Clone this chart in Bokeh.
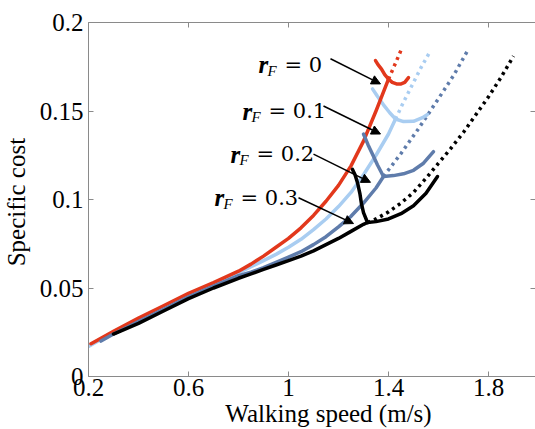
from bokeh.plotting import figure
from bokeh.models import (FixedTicker, LinearAxis, Label, Arrow, NormalHead,
                          ColumnDataSource, CustomJSTickFormatter, Range1d)
from bokeh.embed import file_html
from bokeh.resources import INLINE

# ---------------- data ----------------
x_ticks = [0.2, 0.6, 1.0, 1.4, 1.8]
x_tick_labels = ["0.2", "0.6", "1", "1.4", "1.8"]
y_ticks = [0.0, 0.05, 0.1, 0.15, 0.2]
y_tick_labels = ["0", "0.05", "0.1", "0.15", "0.2"]
x_title = "Walking speed (m/s)"
y_title = "Specific cost"
x_title_pos = 1.16
y_title_pos = 0.0985

# r_F = 0 (red)
r0_speed = [0.21, 0.3, 0.4, 0.5, 0.6, 0.7, 0.8, 0.85, 0.9, 0.95, 1.0, 1.05, 1.1, 1.15, 1.2, 1.25, 1.3, 1.35, 1.40]
r0_cost = [0.0185, 0.0255, 0.033, 0.040, 0.047, 0.053, 0.0595, 0.0635, 0.068, 0.073, 0.078, 0.084, 0.091, 0.099, 0.108, 0.119, 0.133, 0.150, 0.168]
r0_left_speed = [1.40, 1.385, 1.372, 1.358, 1.348]
r0_left_cost = [0.168, 0.1705, 0.1737, 0.1762, 0.1785]
r0_right_speed = [1.40, 1.415, 1.432, 1.448, 1.465, 1.48]
r0_right_cost = [0.168, 0.1662, 0.1653, 0.1652, 0.1662, 0.1688]
r0_dot_speed = [1.40, 1.428, 1.452]
r0_dot_cost = [0.168, 0.177, 0.185]

# r_F = 0.1 (light blue)
r1_speed = [0.2, 0.3, 0.4, 0.5, 0.6, 0.7, 0.8, 0.85, 0.9, 0.95, 1.0, 1.05, 1.1, 1.15, 1.2, 1.25, 1.3, 1.35, 1.4, 1.428]
r1_cost = [0.017, 0.025, 0.0325, 0.0395, 0.046, 0.0525, 0.0585, 0.062, 0.0655, 0.069, 0.073, 0.0775, 0.083, 0.089, 0.096, 0.104, 0.114, 0.125, 0.137, 0.1455]
r1_left_speed = [1.428, 1.405, 1.38, 1.355, 1.336]
r1_left_cost = [0.1455, 0.149, 0.1535, 0.1585, 0.1625]
r1_right_speed = [1.428, 1.46, 1.50, 1.536, 1.556]
r1_right_cost = [0.1455, 0.1440, 0.1442, 0.1462, 0.148]
r1_dot_speed = [1.428, 1.46, 1.496, 1.53, 1.568]
r1_dot_cost = [0.1455, 0.155, 0.165, 0.1745, 0.184]

# r_F = 0.2 (slate blue)
r2_speed = [0.25, 0.3, 0.4, 0.5, 0.6, 0.7, 0.8, 0.85, 0.9, 0.95, 1.0, 1.05, 1.1, 1.15, 1.2, 1.25, 1.3, 1.35, 1.38]
r2_cost = [0.020, 0.024, 0.031, 0.038, 0.045, 0.051, 0.057, 0.059, 0.0615, 0.0645, 0.0675, 0.0705, 0.0745, 0.079, 0.0845, 0.0905, 0.098, 0.1065, 0.113]
r2_left_speed = [1.38, 1.356, 1.338, 1.318, 1.30]
r2_left_cost = [0.113, 0.1195, 0.125, 0.131, 0.137]
r2_right_speed = [1.38, 1.42, 1.46, 1.50, 1.54, 1.58]
r2_right_cost = [0.113, 0.1135, 0.1145, 0.1165, 0.1205, 0.127]
r2_dot_speed = [1.38, 1.45, 1.52, 1.60, 1.66, 1.716]
r2_dot_cost = [0.113, 0.126, 0.14, 0.157, 0.170, 0.184]

# r_F = 0.3 (black)
r3_speed = [0.30, 0.4, 0.5, 0.6, 0.7, 0.8, 0.85, 0.9, 0.95, 1.0, 1.05, 1.1, 1.15, 1.2, 1.25, 1.3, 1.316]
r3_cost = [0.024, 0.030, 0.037, 0.044, 0.050, 0.0555, 0.058, 0.0605, 0.063, 0.0655, 0.068, 0.071, 0.0745, 0.078, 0.082, 0.086, 0.087]
r3_left_speed = [1.316, 1.30, 1.292, 1.286, 1.276, 1.266, 1.256]
r3_left_cost = [0.087, 0.0926, 0.0975, 0.1030, 0.1095, 0.1140, 0.117]
r3_right_speed = [1.316, 1.35, 1.4, 1.45, 1.5, 1.55, 1.596]
r3_right_cost = [0.087, 0.0875, 0.089, 0.092, 0.0965, 0.1035, 0.113]
r3_dot_speed = [1.316, 1.35, 1.4, 1.45, 1.5, 1.55, 1.6, 1.65, 1.7, 1.75, 1.8, 1.85, 1.9]
r3_dot_cost = [0.087, 0.089, 0.093, 0.098, 0.104, 0.112, 0.1205, 0.129, 0.138, 0.148, 0.158, 0.169, 0.181]

# annotations
ann_values = ["= 0", "= 0.1", "= 0.2", "= 0.3"]
ann_x = [0.88, 0.816, 0.768, 0.704]
ann_y = [0.176, 0.150, 0.1256, 0.101]
arrow_x0 = [1.168, 1.14, 1.10, 1.04]
arrow_y0 = [0.1795, 0.1528, 0.1256, 0.101]
arrow_x1 = [1.368, 1.368, 1.328, 1.26]
arrow_y1 = [0.1653, 0.137, 0.1097, 0.0864]

# ---------------- styling ----------------
RED = "#e2381c"
LIGHT = "#a9cdf1"
SLATE = "#5f7cab"
BLACK = "#000000"
FONT = "'Liberation Serif', 'Times New Roman', serif"
ANN_FONT = "DejaVu Serif"
AXIS_GREY = "#8a8a8a"

p = figure(width=535, height=429, output_backend="svg", toolbar_location=None,
           x_range=Range1d(0.2, 1.988), y_range=Range1d(0, 0.2),
           min_border_left=88, min_border_right=0, min_border_top=22,
           min_border_bottom=53)
p.grid.visible = False
p.outline_line_color = None
p.background_fill_color = "white"
p.border_fill_color = "white"

p.xaxis.ticker = FixedTicker(ticks=x_ticks)
p.xaxis.major_label_overrides = dict(zip(x_ticks, x_tick_labels))
p.yaxis.ticker = FixedTicker(ticks=y_ticks)
p.yaxis.major_label_overrides = dict(zip(y_ticks, y_tick_labels))

for ax in (p.xaxis[0], p.yaxis[0]):
    ax.axis_line_color = AXIS_GREY
    ax.major_tick_line_color = AXIS_GREY
    ax.major_tick_in = 5
    ax.major_tick_out = 0
    ax.minor_tick_line_color = None
    ax.major_label_text_font = FONT
    ax.major_label_text_font_size = "25px"
    ax.major_label_text_color = "black"

p.xaxis.major_label_standoff = 2
p.yaxis.major_label_standoff = 5

# axis titles drawn as the single tick label of an extra, line-less axis
xt = LinearAxis(ticker=FixedTicker(ticks=[x_title_pos]),
                major_label_overrides={x_title_pos: x_title},
                axis_line_color=None, major_tick_line_color=None,
                minor_tick_line_color=None, major_label_standoff=-5,
                major_label_text_font=FONT, major_label_text_font_size="25px",
                major_label_text_color="black")
p.add_layout(xt, "below")
yt = LinearAxis(ticker=FixedTicker(ticks=[y_title_pos]),
                major_label_overrides={y_title_pos: y_title},
                major_label_orientation="vertical",
                axis_line_color=None, major_tick_line_color=None,
                minor_tick_line_color=None, major_label_standoff=0,
                major_label_text_font=FONT, major_label_text_font_size="25px",
                major_label_text_color="black")
p.add_layout(yt, "left")

empty = CustomJSTickFormatter(code="return ''")
top = LinearAxis(ticker=FixedTicker(ticks=x_ticks), formatter=empty,
                 axis_line_color=AXIS_GREY, major_tick_line_color=AXIS_GREY,
                 major_tick_in=5, major_tick_out=0, minor_tick_line_color=None,
                 major_label_standoff=0, major_label_text_font_size="1px")
p.add_layout(top, "above")
right = LinearAxis(ticker=FixedTicker(ticks=y_ticks), formatter=empty,
                   axis_line_color=None, major_tick_line_color=AXIS_GREY,
                   major_tick_in=5, major_tick_out=0, minor_tick_line_color=None,
                   major_label_standoff=0, major_label_text_font_size="1px")
p.add_layout(right, "right")

W = 3.5
series = [
    (r1_speed, r1_cost, r1_left_speed, r1_left_cost, r1_right_speed, r1_right_cost, r1_dot_speed, r1_dot_cost, LIGHT),
    (r0_speed, r0_cost, r0_left_speed, r0_left_cost, r0_right_speed, r0_right_cost, r0_dot_speed, r0_dot_cost, RED),
    (r2_speed, r2_cost, r2_left_speed, r2_left_cost, r2_right_speed, r2_right_cost, r2_dot_speed, r2_dot_cost, SLATE),
    (r3_speed, r3_cost, r3_left_speed, r3_left_cost, r3_right_speed, r3_right_cost, r3_dot_speed, r3_dot_cost, BLACK),
]
for (sx, sy, lx, ly, rx, ry, dx, dy, col) in series:
    p.line(dx, dy, line_color=col, line_width=3.5, line_dash="3 4")
for (sx, sy, lx, ly, rx, ry, dx, dy, col) in series:
    p.line(sx, sy, line_color=col, line_width=W, line_join="round", line_cap="round")
    p.line(lx, ly, line_color=col, line_width=W, line_join="round", line_cap="round")
    p.line(rx, ry, line_color=col, line_width=W, line_join="round", line_cap="round")

arrows = ColumnDataSource(dict(x0=arrow_x0, y0=arrow_y0, x1=arrow_x1, y1=arrow_y1))
p.add_layout(Arrow(end=NormalHead(size=9, fill_color="black", line_color="black"),
                   source=arrows, x_start="x0", y_start="y0", x_end="x1", y_end="y1",
                   line_color="black", line_width=1.5))

for i in range(len(ann_values)):
    p.add_layout(Label(x=ann_x[i], y=ann_y[i], text="r", text_font=FONT,
                       text_font_style="bold italic", text_font_size="25px",
                       text_baseline="alphabetic", text_color="black"))
    p.add_layout(Label(x=ann_x[i], y=ann_y[i], text="F", text_font=FONT,
                       text_font_style="italic", text_font_size="15px",
                       text_baseline="alphabetic", x_offset=9, y_offset=-6,
                       text_color="black"))
    p.add_layout(Label(x=ann_x[i], y=ann_y[i], text=ann_values[i], text_font=ANN_FONT,
                       text_font_size="21px", text_baseline="alphabetic",
                       x_offset=26, text_color="black"))

open("out.html", "w").write(file_html(p, INLINE))
